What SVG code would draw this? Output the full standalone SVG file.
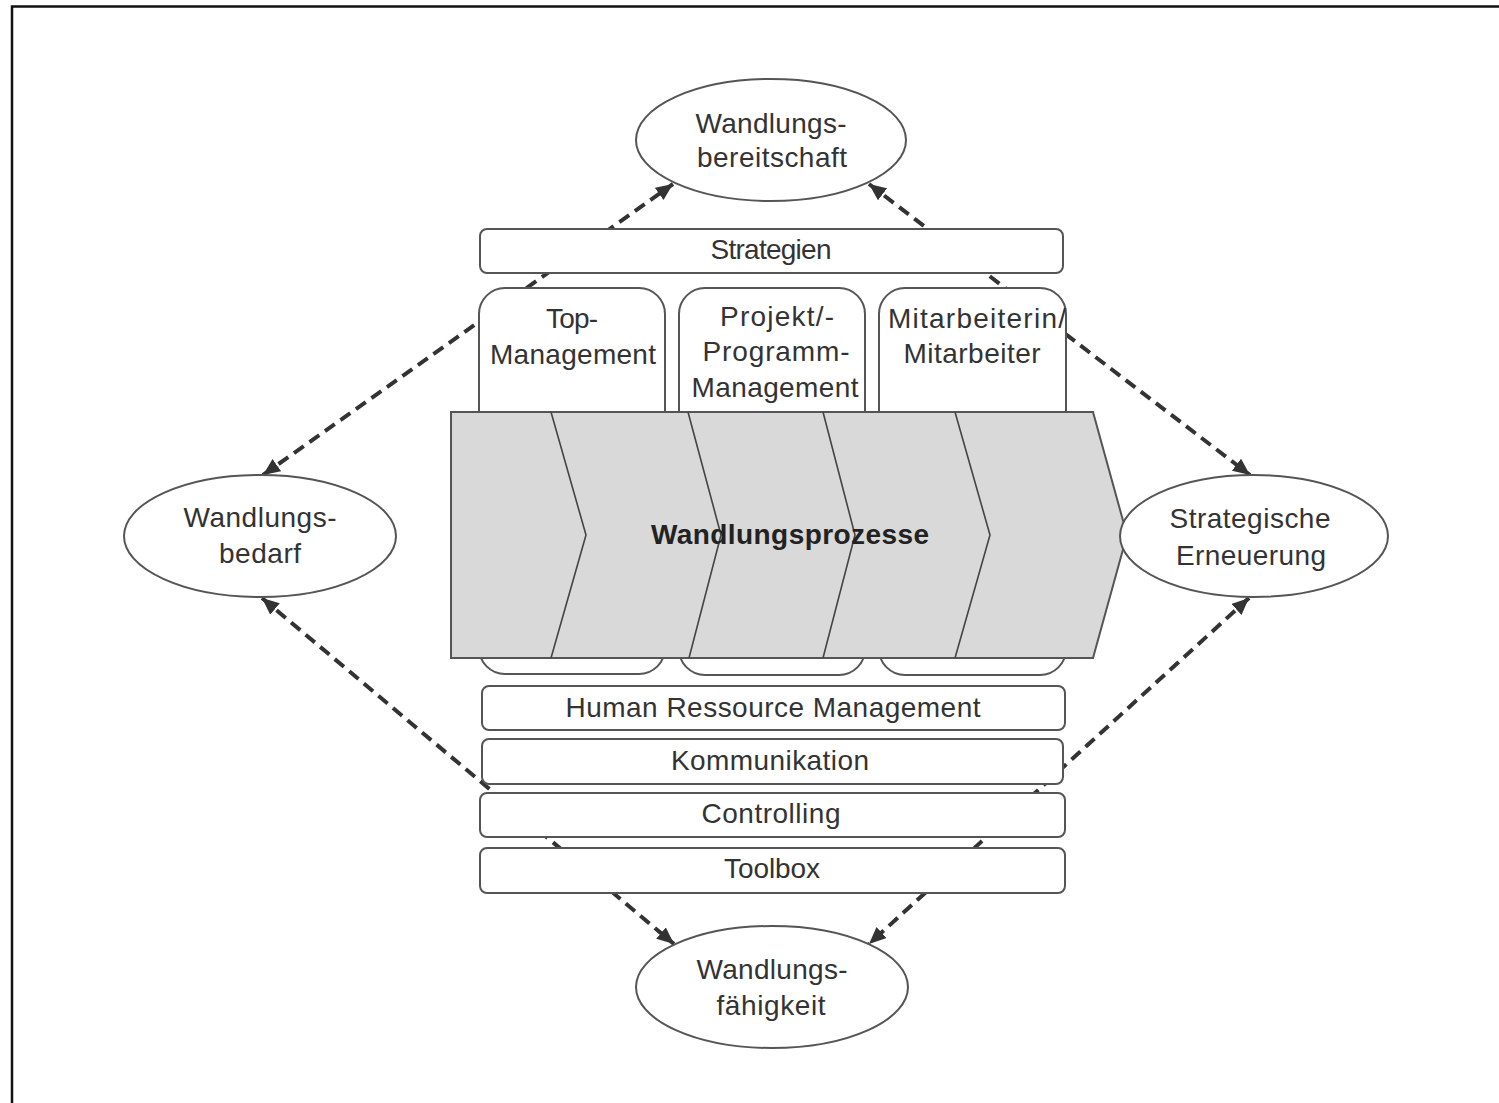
<svg xmlns="http://www.w3.org/2000/svg" width="1499" height="1103" viewBox="0 0 1499 1103">
<defs>
<style>
.t{font-family:"Liberation Sans Narrow","Liberation Sans",Arial,Helvetica,sans-serif;font-size:28px;fill:#333;text-anchor:middle}
.b{font-weight:bold;fill:#222}
.box{fill:#fff;stroke:#555;stroke-width:2}
.ell{fill:#fff;stroke:#555;stroke-width:2}
.con{fill:none;stroke:#333;stroke-width:4;stroke-dasharray:12 7}
.chev{fill:none;stroke:#444;stroke-width:1.6}
</style>
<marker id="ah" viewBox="0 0 17 15" refX="17" refY="7.5" markerWidth="17" markerHeight="15" markerUnits="userSpaceOnUse" orient="auto-start-reverse">
<path d="M0,0 L17,7.5 L0,15 z" fill="#333"/>
</marker>
</defs>
<rect width="1499" height="1103" fill="#fff"/>
<path d="M12,1103 V6.5 H1499" fill="none" stroke="#111" stroke-width="2.5"/>

<g id="connectors">
<line class="con" x1="263" y1="475" x2="673" y2="184" marker-start="url(#ah)" marker-end="url(#ah)"/>
<line class="con" x1="869" y1="184" x2="1250" y2="475" marker-start="url(#ah)" marker-end="url(#ah)"/>
<line class="con" x1="262" y1="598" x2="674" y2="944" marker-start="url(#ah)" marker-end="url(#ah)"/>
<line class="con" x1="1249" y1="598" x2="869" y2="944" marker-start="url(#ah)" marker-end="url(#ah)"/>
</g>

<g id="wandlungsbereitschaft">
<ellipse class="ell" cx="771" cy="140" rx="135" ry="61"/>
<text class="t" x="771" y="133" textLength="151">Wandlungs-</text>
<text class="t" x="772" y="167" textLength="150">bereitschaft</text>
</g>

<g id="strategien">
<rect class="box" x="480" y="229" width="583" height="44" rx="7"/>
<text class="t" x="771" y="259" textLength="121">Strategien</text>
</g>

<g id="top-management">
<rect class="box" x="479" y="288" width="186" height="386" rx="26"/>
<text class="t" x="572" y="328" textLength="52">Top-</text>
<text class="t" x="573" y="364" textLength="166">Management</text>
</g>

<g id="projekt-management">
<rect class="box" x="679" y="288" width="186" height="387" rx="26"/>
<text class="t" x="777" y="326" textLength="114">Projekt/-</text>
<text class="t" x="776" y="361" textLength="147">Programm-</text>
<text class="t" x="775" y="397" textLength="167">Management</text>
</g>

<g id="mitarbeiter">
<rect class="box" x="879" y="288" width="187" height="387" rx="26"/>
<text class="t" x="977" y="328" textLength="178">Mitarbeiterin/</text>
<text class="t" x="972" y="363" textLength="137">Mitarbeiter</text>
</g>

<g id="wandlungsprozesse">
<polygon points="451,412 1093,412 1127,535 1093,658 451,658" fill="#d9d9d9" stroke="#555" stroke-width="2"/>
<polyline class="chev" points="551,412 586,535 551,658"/>
<polyline class="chev" points="688,412 721,535 689,658"/>
<polyline class="chev" points="823,412 855,535 823,658"/>
<polyline class="chev" points="955,412 990,535 955,658"/>
<text class="t b" x="790" y="544" textLength="278">Wandlungsprozesse</text>
</g>

<g id="wandlungsbedarf">
<ellipse class="ell" cx="260" cy="536" rx="136" ry="61"/>
<text class="t" x="260" y="527" textLength="153">Wandlungs-</text>
<text class="t" x="260" y="563" textLength="82">bedarf</text>
</g>

<g id="strategische-erneuerung">
<ellipse class="ell" cx="1254" cy="536" rx="134" ry="61"/>
<text class="t" x="1250" y="528" textLength="161">Strategische</text>
<text class="t" x="1251" y="565" textLength="150">Erneuerung</text>
</g>

<g id="hrm">
<rect class="box" x="482" y="686" width="583" height="44" rx="7"/>
<text class="t" x="773" y="717" textLength="415">Human Ressource Management</text>
</g>

<g id="kommunikation">
<rect class="box" x="482" y="739" width="581" height="45" rx="7"/>
<text class="t" x="770" y="770" textLength="198">Kommunikation</text>
</g>

<g id="controlling">
<rect class="box" x="480" y="793" width="585" height="44" rx="7"/>
<text class="t" x="771" y="823" textLength="139">Controlling</text>
</g>

<g id="toolbox">
<rect class="box" x="480" y="848" width="585" height="45" rx="7"/>
<text class="t" x="772" y="878" textLength="96">Toolbox</text>
</g>

<g id="wandlungsfaehigkeit">
<ellipse class="ell" cx="772" cy="987" rx="136" ry="61"/>
<text class="t" x="772" y="979" textLength="151">Wandlungs-</text>
<text class="t" x="771" y="1015" textLength="109">fähigkeit</text>
</g>
</svg>
